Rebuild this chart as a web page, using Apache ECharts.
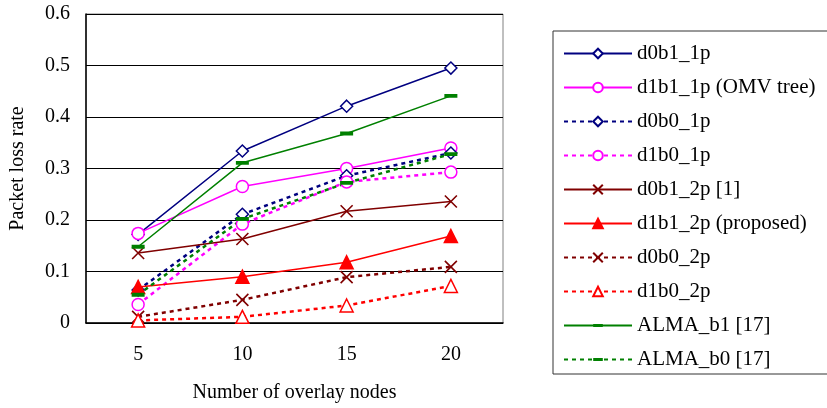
<!DOCTYPE html>
<html>
<head>
<meta charset="utf-8">
<script src="https://cdn.jsdelivr.net/npm/echarts@6/dist/echarts.min.js"></script>
<style>
  html, body { margin: 0; padding: 0; background: #fff; }
  #chart { width: 827px; height: 408px; }
</style>
</head>
<body>
<div id="chart"></div>
<script>
// Number of overlay nodes
const nodes = ['5', '10', '15', '20'];

// Packet loss rate per scheme
const d0b1_1p = [0.172, 0.334, 0.421, 0.495];
const d1b1_1p = [0.174, 0.265, 0.300, 0.340];
const d0b0_1p = [0.064, 0.211, 0.286, 0.330];
const d1b0_1p = [0.036, 0.192, 0.274, 0.293];
const d0b1_2p = [0.136, 0.163, 0.217, 0.236];
const d1b1_2p = [0.070, 0.090, 0.118, 0.169];
const d0b0_2p = [0.012, 0.045, 0.089, 0.109];
const d1b0_2p = [0.005, 0.012, 0.034, 0.072];
const alma_b1 = [0.148, 0.311, 0.368, 0.441];
const alma_b0 = [0.055, 0.202, 0.272, 0.328];

const yTicks = { min: 0, max: 0.6, step: 0.1 };

const FONT = '"Liberation Serif", "Times New Roman", serif';
const NAVY = '#000080', MAGENTA = '#ff00ff', MAROON = '#800000', RED = '#ff0000', GREEN = '#008000';
const DASH = [4, 4];
const CROSS = 'path://M0,0L10,10M10,0L0,10';
// short horizontal bar inside a square bounding box (zero-area strips pin the box)
const BAR = 'path://M0,0L12,0L12,0Z M0,4.2H12V7.8H0Z M0,12L12,12L12,12Z';

function line(name, data, color, dashed, symbol, size, filled) {
  const s = {
    name, type: 'line', data,
    symbol, symbolSize: size,
    showAllSymbol: true,
    lineStyle: { color, width: dashed ? 2.5 : 1.5, type: dashed ? DASH : 'solid' },
    itemStyle: { color: filled ? color : '#fff', borderColor: color, borderWidth: 1.5 },
    emphasis: { disabled: true },
    animation: false
  };
  if (symbol === CROSS) {
    s.itemStyle = { color: color, borderColor: color, borderWidth: 1.6 };
  }
  if (symbol === BAR) {
    s.itemStyle = { color: color, borderWidth: 0 };
  }
  return s;
}

const series = [
  line('d0b1_1p', d0b1_1p, NAVY, false, 'diamond', 12, false),
  line('d1b1_1p (OMV tree)', d1b1_1p, MAGENTA, false, 'circle', 12, false),
  line('d0b0_1p', d0b0_1p, NAVY, true, 'diamond', 12, false),
  line('d1b0_1p', d1b0_1p, MAGENTA, true, 'circle', 12, false),
  line('d0b1_2p [1]', d0b1_2p, MAROON, false, CROSS, 12, true),
  line('d1b1_2p (proposed)', d1b1_2p, RED, false, 'triangle', 13, true),
  line('d0b0_2p', d0b0_2p, MAROON, true, CROSS, 12, true),
  line('d1b0_2p', d1b0_2p, RED, true, 'triangle', 13, false),
  line('ALMA_b1 [17]', alma_b1, GREEN, false, BAR, 13, true),
  line('ALMA_b0 [17]', alma_b0, GREEN, true, BAR, 13, true)
];

const chart = echarts.init(document.getElementById('chart'), null, { renderer: 'canvas' });
chart.setOption({
  backgroundColor: '#fff',
  animation: false,
  textStyle: { fontFamily: FONT },
  grid: {
    left: 83, top: 14, width: 420, height: 309,
    show: true, borderColor: '#808080', borderWidth: 1, backgroundColor: 'transparent'
  },
  legend: {
    orient: 'vertical',
    left: 553, top: 31,
    padding: [12, 40, 4, 10],
    itemWidth: 68, itemHeight: 12,
    itemGap: 13,
    borderColor: '#333', borderWidth: 1,
    textStyle: { fontFamily: FONT, fontSize: 21, color: '#000' },
    data: series.map(s => s.name)
  },
  xAxis: {
    type: 'category',
    data: nodes,
    boundaryGap: true,
    name: 'Number of overlay nodes',
    nameLocation: 'middle',
    nameGap: 60,
    nameTextStyle: { fontFamily: FONT, fontSize: 20, color: '#000' },
    axisLine: { lineStyle: { color: '#000', width: 1.5 } },
    axisTick: { inside: true, length: 6, lineStyle: { color: '#000' } },
    axisLabel: { fontFamily: FONT, fontSize: 20, color: '#000', margin: 22 }
  },
  yAxis: {
    type: 'value',
    min: yTicks.min, max: yTicks.max, interval: yTicks.step,
    name: 'Packet loss rate',
    nameLocation: 'middle',
    nameGap: 58,
    nameRotate: 90,
    nameTextStyle: { fontFamily: FONT, fontSize: 20, color: '#000' },
    axisLine: { show: true, lineStyle: { color: '#000', width: 1.5 } },
    axisTick: { show: true, inside: true, length: 5, lineStyle: { color: '#000' } },
    axisLabel: { fontFamily: FONT, fontSize: 20, color: '#000', margin: 16,
      formatter: v => (Math.round(v * 10) / 10).toString() },
    splitLine: { show: true, lineStyle: { color: '#000', width: 1 } }
  },
  series
});
</script>
</body>
</html>
